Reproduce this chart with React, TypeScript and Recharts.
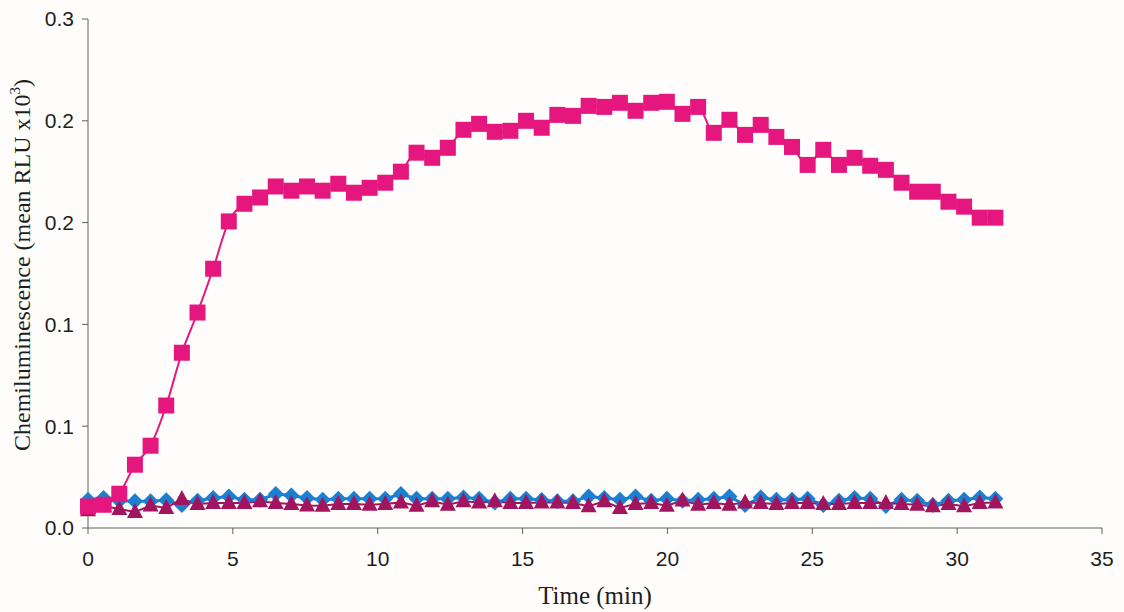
import { LineChart, Line, XAxis, YAxis } from 'recharts';

// time points (min)
const TIME = [
  0, 0.54, 1.08, 1.62, 2.16, 2.7, 3.24, 3.78, 4.32, 4.86, 5.4, 5.94, 6.48, 7.02, 7.56,
  8.1, 8.64, 9.18, 9.72, 10.26, 10.8, 11.34, 11.88, 12.42, 12.96, 13.5, 14.04, 14.58,
  15.12, 15.66, 16.2, 16.74, 17.28, 17.82, 18.36, 18.9, 19.44, 19.98, 20.52, 21.06,
  21.6, 22.14, 22.68, 23.22, 23.76, 24.3, 24.84, 25.38, 25.92, 26.46, 27.0, 27.54,
  28.08, 28.62, 29.16, 29.7, 30.24, 30.78, 31.32,
];

// pink squares
const SQUARES = [
  0.0127, 0.0137, 0.0202, 0.0373, 0.0485, 0.0722, 0.1033, 0.127, 0.1528, 0.1807,
  0.1911, 0.1948, 0.2013, 0.1988, 0.2013, 0.1988, 0.2029, 0.1976, 0.2005, 0.2035,
  0.21, 0.2212, 0.2182, 0.2241, 0.2347, 0.2382, 0.2335, 0.2341, 0.24, 0.2359,
  0.2435, 0.2429, 0.2488, 0.2482, 0.2506, 0.2459, 0.2506, 0.2512, 0.2441, 0.2482,
  0.2329, 0.2406, 0.2317, 0.2376, 0.2305, 0.2246, 0.214, 0.2229, 0.214, 0.2182,
  0.2135, 0.2111, 0.2035, 0.1982, 0.1982, 0.1923, 0.1894, 0.1829, 0.1829,
];

// blue diamonds
const DIAMONDS = [
  0.0167, 0.0177, 0.016, 0.0157, 0.0157, 0.0163, 0.0135, 0.0161, 0.0177, 0.0186,
  0.0167, 0.0167, 0.02, 0.0192, 0.0177, 0.0167, 0.0173, 0.0173, 0.0173, 0.0173,
  0.02, 0.0173, 0.0173, 0.0173, 0.018, 0.0173, 0.015, 0.0173, 0.0173, 0.0165,
  0.0157, 0.0157, 0.0186, 0.0177, 0.0167, 0.0186, 0.0161, 0.0173, 0.0161, 0.0167,
  0.0173, 0.0186, 0.0135, 0.018, 0.0167, 0.0167, 0.0173, 0.0135, 0.0161, 0.0177,
  0.0173, 0.013, 0.0167, 0.0161, 0.0135, 0.0161, 0.0167, 0.018, 0.0173,
];

// purple triangles
const TRIANGLES = [
  0.0105, 0.013, 0.0112, 0.0094, 0.0133, 0.0118, 0.0171, 0.0142, 0.0147, 0.0147,
  0.0147, 0.0157, 0.0147, 0.0142, 0.0133, 0.0131, 0.0142, 0.0142, 0.0137, 0.0142,
  0.0151, 0.0131, 0.0157, 0.0137, 0.0157, 0.0151, 0.0157, 0.0147, 0.0147, 0.0151,
  0.0151, 0.0147, 0.0128, 0.0157, 0.0118, 0.0142, 0.0147, 0.0131, 0.0162, 0.0137,
  0.0147, 0.0137, 0.0151, 0.0147, 0.0142, 0.0147, 0.0147, 0.0142, 0.0142, 0.0147,
  0.0147, 0.0147, 0.0142, 0.0137, 0.0128, 0.0142, 0.0128, 0.0147, 0.0151,
];

const X_TICKS = [0, 5, 10, 15, 20, 25, 30, 35];
const Y_TICKS = [0, 0.06, 0.12, 0.18, 0.24, 0.3];

const PINK = '#e5177e';
const BLUE = '#1b7fd2';
const PURPLE = '#a3145f';
const AXIS = '#5c6452';
const TEXT = '#1e1e1e';

const data = TIME.map((t, i) => ({
  t,
  sq: SQUARES[i],
  di: DIAMONDS[i],
  tr: TRIANGLES[i],
}));

const SquareDot = (p: any) => (
  <rect key={`sq${p.index}`} x={p.cx - 8} y={p.cy - 8} width={16} height={16} fill={PINK} />
);

const DiamondDot = (p: any) => (
  <polygon
    key={`di${p.index}`}
    points={`${p.cx},${p.cy - 8} ${p.cx + 8},${p.cy} ${p.cx},${p.cy + 8} ${p.cx - 8},${p.cy}`}
    fill={BLUE}
  />
);

const TriangleDot = (p: any) => (
  <polygon
    key={`tr${p.index}`}
    points={`${p.cx},${p.cy - 9} ${p.cx + 8},${p.cy + 6} ${p.cx - 8},${p.cy + 6}`}
    fill={PURPLE}
  />
);

const YLabel = () => (
  <text
    transform="translate(30, 265) rotate(-90)"
    textAnchor="middle"
    fontFamily="'Liberation Serif', serif"
    fontSize={24}
    fill={TEXT}
  >
    Chemiluminescence (mean RLU x10
    <tspan dy={-10} fontSize={15}>3</tspan>
    <tspan dy={10}>)</tspan>
  </text>
);

const XLabel = () => (
  <text
    x={595}
    y={604}
    textAnchor="middle"
    fontFamily="'Liberation Serif', serif"
    fontSize={25}
    fill={TEXT}
  >
    Time (min)
  </text>
);

const tickStyle = { fontSize: 21, fill: TEXT, fontFamily: "'Liberation Sans', Arial, sans-serif" };

export default function App() {
  return (
    <div style={{ position: 'absolute', left: 0, top: 0, width: 1124, height: 612, background: '#fefdfb' }}>
      <LineChart width={1124} height={612} data={data} margin={{ top: 19, right: 22, left: 28, bottom: 24 }}>
        <XAxis
          dataKey="t"
          type="number"
          domain={[0, 35]}
          ticks={X_TICKS}
          stroke={AXIS}
          tickSize={6}
          tickMargin={17}
          height={60}
          tick={tickStyle}
          tickLine={{ stroke: AXIS }}
          label={<XLabel />}
        />
        <YAxis
          type="number"
          domain={[0, 0.3]}
          ticks={Y_TICKS}
          stroke={AXIS}
          tickSize={6}
          tickMargin={8}
          width={60}
          tick={tickStyle}
          tickFormatter={(v: number) => v.toFixed(1)}
          label={<YLabel />}
        />
        <Line
          dataKey="di"
          type="linear"
          stroke={BLUE}
          strokeWidth={3}
          dot={DiamondDot}
          activeDot={false}
          isAnimationActive={false}
        />
        <Line
          dataKey="tr"
          type="linear"
          stroke={PURPLE}
          strokeWidth={2}
          dot={TriangleDot}
          activeDot={false}
          isAnimationActive={false}
        />
        <Line
          dataKey="sq"
          type="monotone"
          stroke={PINK}
          strokeWidth={2}
          dot={SquareDot}
          activeDot={false}
          isAnimationActive={false}
        />
      </LineChart>
    </div>
  );
}
